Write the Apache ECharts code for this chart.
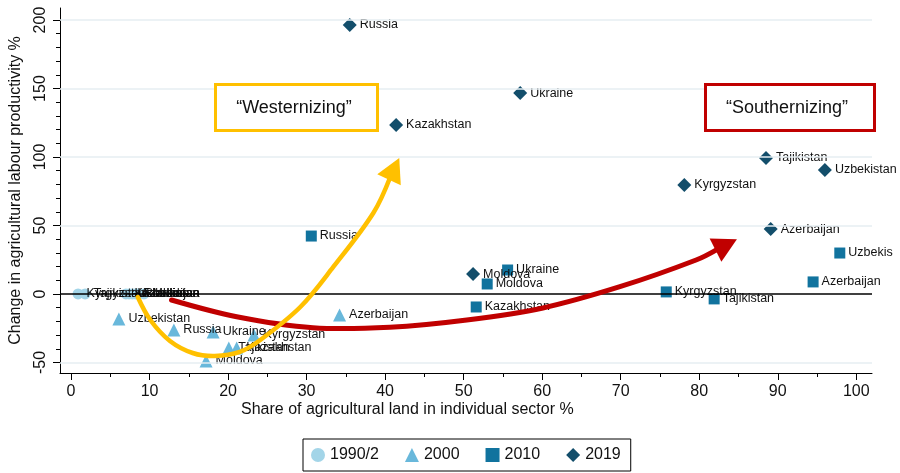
<!DOCTYPE html>
<html><head><meta charset="utf-8">
<script src="https://cdn.jsdelivr.net/npm/echarts@6/dist/echarts.min.js"></script>
<style>html,body{margin:0;padding:0;background:#fff}#c{width:900px;height:473px}</style>
</head><body><div id="c"></div>
<script>
// ---- data ----
const countries1990 = ['Kyrgyzstan','Tajikistan','Kazakhstan','Uzbekistan','Azerbaijan','Russia','Ukraine','Moldova'];
const share1990 = [0.9, 1.8, 7.0, 7.4, 7.8, 8.2, 8.5, 9.3];
const change1990 = [0, 0, 0, 0, 0, 0, 0, 0];

const countries2000 = ['Uzbekistan','Russia','Ukraine','Kyrgyzstan','Tajikistan','Kazakhstan','Moldova','Azerbaijan'];
const share2000 = [6.1, 13.1, 18.1, 23.3, 20.1, 21.1, 17.2, 34.2];
const change2000 = [-18.2, -26.3, -27.7, -29.9, -39.4, -39.4, -48.9, -15.3];

const countries2010 = ['Russia','Ukraine','Moldova','Kazakhstan','Kyrgyzstan','Tajikistan','Azerbaijan','Uzbekis'];
const share2010 = [30.6, 55.6, 53.0, 51.6, 75.8, 81.9, 94.5, 97.9];
const change2010 = [42.3, 17.5, 7.3, -9.5, 1.5, -3.6, 8.8, 29.9];

const countries2019 = ['Russia','Ukraine','Kazakhstan','Tajikistan','Uzbekistan','Kyrgyzstan','Azerbaijan','Moldova'];
const share2019 = [35.5, 57.2, 41.4, 88.5, 96.0, 78.1, 89.1, 51.2];
const change2019 = [196.4, 146.7, 123.4, 99.3, 90.5, 79.6, 47.4, 14.5];

const seriesNames = ['1990/2','2000','2010','2019'];
const xMajorTicks = [0,10,20,30,40,50,60,70,80,90,100];
const xMinorTicks = [5,15,25,35,45,55,65,75,85,95];
const yMajorTicks = [-50,0,50,100,150,200];
const yMinorTicks = [-40,-30,-20,-10,10,20,30,40,60,70,80,90,110,120,130,140,160,170,180,190];
const gridValues = [-50,50,100,150,200];

// annotation paths (data coordinates), last point = arrow tip
const westX = [8.5, 10.1, 12.6, 15.5, 18.3, 21.5, 24.1, 29.2, 33.4, 38.5, 41.8];
const westY = [-2.2, -19.0, -34.3, -43.1, -45.3, -42.3, -33.6, -9.5, 19.7, 59.1, 99.3];
const southX = [12.8, 21.1, 30.8, 40.6, 50.4, 60.1, 69.9, 79.6, 84.8];
const southY = [-4.4, -16.6, -24.6, -24.3, -19.0, -10.2, 5.3, 24.8, 39.9];
const westLabel = '\u201cWesternizing\u201d';
const southLabel = '\u201cSouthernizing\u201d';

// ---- chart ----
const FONT = '"Liberation Sans", Arial, sans-serif';
const NARROW = '"Liberation Sans Narrow", "Liberation Sans", Arial, sans-serif';
const zip = (xs, ys, ns) => xs.map((x, i) => [x, ys[i], ns[i]]);

function scatter(name, data, symbol, size, color) {
  return {
    name, type: 'scatter', data, symbol, symbolSize: size, z: 3,
    itemStyle: { color, opacity: 1 },
    label: { show: true, position: 'right', distance: 3, formatter: p => p.data[2],
      fontFamily: FONT, fontSize: 12.5, color: '#111', textBorderWidth: 0, textBorderColor: 'transparent' },
    emphasis: { disabled: true }
  };
}

function arrowSeries(xs, ys, color, width, z) {
  return {
    type: 'custom', silent: true, z, data: [[0, 0]],
    renderItem(params, api) {
      const pts = xs.map((x, i) => api.coord([x, ys[i]]));
      const n = pts.length;
      const tip = pts[n - 1], prev = pts[n - 2];
      let dx = tip[0] - prev[0], dy = tip[1] - prev[1];
      const len = Math.hypot(dx, dy); dx /= len; dy /= len;
      const L = 24, hw = 13;
      const base = [tip[0] - dx * L, tip[1] - dy * L];
      const linePts = pts.slice(0, n - 1).concat([[base[0] + dx * 3, base[1] + dy * 3]]);
      return { type: 'group', children: [
        { type: 'polyline', shape: { points: linePts, smooth: 0.35 },
          style: { stroke: color, lineWidth: width, fill: null, lineCap: 'round' } },
        { type: 'polygon', shape: { points: [tip, [base[0] - dy * hw, base[1] + dx * hw], [base[0] + dy * hw, base[1] - dx * hw]] },
          style: { fill: color } }
      ]};
    }
  };
}

const chart = echarts.init(document.getElementById('c'), null, { renderer: 'canvas' });
chart.setOption({
  animation: false,
  backgroundColor: '#fff',
  grid: { left: 60, right: 28, top: 8, bottom: 100, containLabel: false },
  xAxis: [
    { type: 'value', min: -1.4, max: 102, position: 'bottom',
      axisLine: { show: true, onZero: false, lineStyle: { color: '#000', width: 1 } },
      axisTick: { show: true, length: 7, lineStyle: { color: '#000' }, customValues: xMajorTicks },
      axisLabel: { show: true, customValues: xMajorTicks, margin: 11, fontFamily: NARROW, fontSize: 16, color: '#111' },
      splitLine: { show: false } },
    { type: 'value', min: -1.4, max: 102, position: 'bottom',
      axisLine: { show: false, onZero: false },
      axisTick: { show: true, length: 4, lineStyle: { color: '#000' }, customValues: xMinorTicks },
      axisLabel: { show: false }, splitLine: { show: false } }
  ],
  yAxis: [
    { type: 'value', min: -57.7, max: 208.8, position: 'left',
      name: 'Change in agricultural labour productivity %', nameLocation: 'middle', nameGap: 36,
      nameTextStyle: { fontFamily: FONT, fontSize: 16, color: '#111' },
      axisLine: { show: true, onZero: false, lineStyle: { color: '#000', width: 1 } },
      axisTick: { show: true, length: 7, lineStyle: { color: '#000' }, customValues: yMajorTicks },
      axisLabel: { show: true, customValues: yMajorTicks, rotate: 90, margin: 11, fontFamily: NARROW, fontSize: 16, color: '#111' },
      splitLine: { show: false } },
    { type: 'value', min: -57.7, max: 208.8, position: 'left',
      axisLine: { show: false, onZero: false },
      axisTick: { show: true, length: 4, lineStyle: { color: '#000' }, customValues: yMinorTicks },
      axisLabel: { show: false }, splitLine: { show: false } }
  ],
  legend: {
    data: seriesNames, left: 303, top: 439, orient: 'horizontal',
    borderColor: '#000', borderWidth: 1, padding: [8, 10, 8, 8],
    itemGap: 26, itemWidth: 14, itemHeight: 14,
    textStyle: { fontFamily: FONT, fontSize: 16, color: '#111' }
  },
  graphic: [
    { type: 'text', left: 241, top: 402, style: { text: 'Share of agricultural land in individual sector %', fontFamily: FONT, fontSize: 16, fill: '#111' } },
    { type: 'rect', z: 10, shape: { x: 215.5, y: 84.5, width: 162, height: 46 }, style: { fill: '#fff', stroke: '#ffc000', lineWidth: 3 } },
    { type: 'text', z: 11, x: 294, y: 108, style: { text: westLabel, fontFamily: FONT, fontSize: 18, fill: '#111', align: 'center', verticalAlign: 'middle' } },
    { type: 'rect', z: 10, shape: { x: 705.5, y: 84.5, width: 169, height: 46 }, style: { fill: '#fff', stroke: '#c00000', lineWidth: 3 } },
    { type: 'text', z: 11, x: 787, y: 108, style: { text: southLabel, fontFamily: FONT, fontSize: 18, fill: '#111', align: 'center', verticalAlign: 'middle' } }
  ],
  series: [
    { type: 'line', data: [], z: 1, silent: true,
      markLine: { silent: true, symbol: 'none', label: { show: false },
        data: gridValues.map(v => ({ yAxis: v, lineStyle: { color: '#e6eef2', width: 1.5, type: 'solid' } }))
          .concat([{ yAxis: 0, lineStyle: { color: '#000', width: 1.5, type: 'solid' } }]) } },
    scatter(seriesNames[0], zip(share1990, change1990, countries1990), 'circle', 11, '#a3d5e8'),
    scatter(seriesNames[1], zip(share2000, change2000, countries2000), 'triangle', 13, '#69b8db'),
    scatter(seriesNames[2], zip(share2010, change2010, countries2010), 'rect', 11, '#11739e'),
    scatter(seriesNames[3], zip(share2019, change2019, countries2019), 'diamond', 14, '#134e6b'),
    arrowSeries(southX, southY, '#c00000', 5, 5),
    arrowSeries(westX, westY, '#ffc000', 4.5, 6)
  ]
});
</script></body></html>
